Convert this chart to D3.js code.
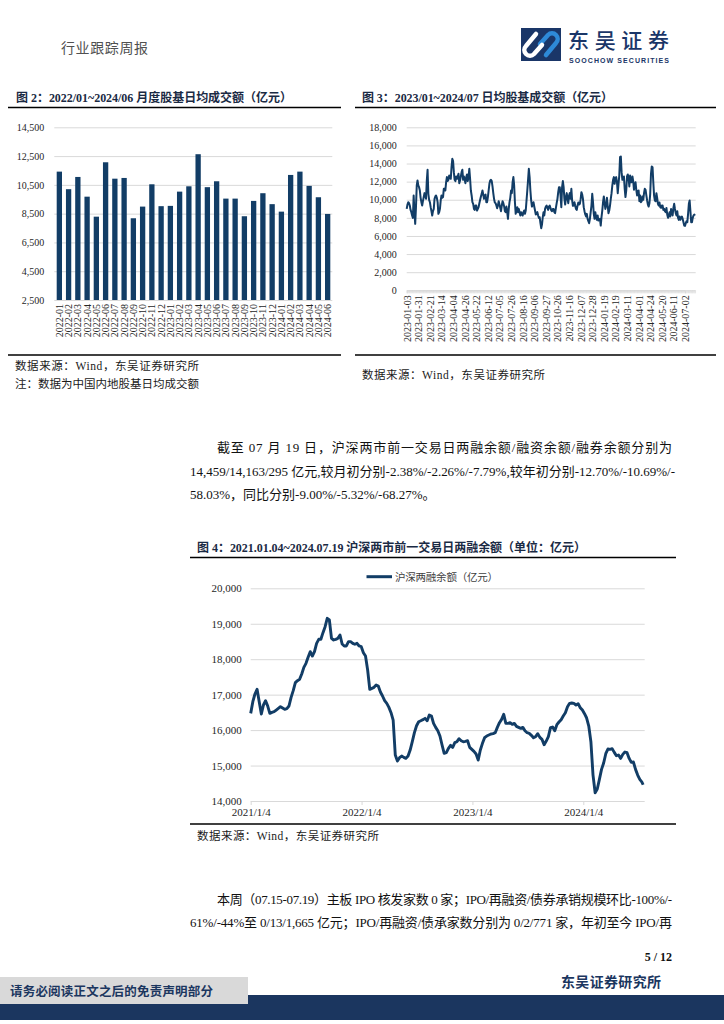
<!DOCTYPE html>
<html><head><meta charset="utf-8">
<script src="https://cdn.jsdelivr.net/npm/d3@7/dist/d3.min.js"></script>
<style>
html,body{margin:0;padding:0;background:#fff;}
svg{display:block;}
</style></head>
<body>
<script>
// ---------- DATA ----------
// Figure 2: monthly average daily turnover (亿元)
const months2 = ["2022-01","2022-02","2022-03","2022-04","2022-05","2022-06","2022-07","2022-08","2022-09","2022-10","2022-11","2022-12",
"2023-01","2023-02","2023-03","2023-04","2023-05","2023-06","2023-07","2023-08","2023-09","2023-10","2023-11","2023-12",
"2024-01","2024-02","2024-03","2024-04","2024-05","2024-06"];
const turnover2 = [11420,10200,11050,9680,8290,12070,10930,10980,8180,8990,10540,9020,
9040,10030,10400,12630,10340,10750,9545,9545,8320,9385,9920,9160,
8640,11190,11420,10430,9640,8480];
const yTicks2 = [2500,4500,6500,8500,10500,12500,14500];

// Figure 3: daily turnover 2023-01-03 ~ 2024-07-19 (亿元), one value per trading day
const dateLabels3 = ["2023-01-03","2023-01-31","2023-02-21","2023-03-14","2023-04-04","2023-04-26","2023-05-22","2023-06-12","2023-07-05","2023-07-26","2023-08-16","2023-09-06","2023-09-27","2023-10-26","2023-11-16","2023-12-07","2023-12-28","2024-01-19","2024-02-19","2024-03-11","2024-04-01","2024-04-24","2024-05-20","2024-06-11","2024-07-02"];
const labelStep3 = 15;
const daily3 = [
8990,9470,9730,9620,9360,8880,8630,8260,8000,10470,8630,7340,9180,11580,12130,11580,11390,11020,10210,9730,
9360,9840,10290,10730,10470,10100,12130,13310,10650,9990,9730,9180,8740,8260,8740,8990,10100,10360,10470,10210,
9730,8440,8630,8990,9920,10470,10210,10290,11210,11210,11020,11940,12500,12060,12200,12680,12500,12310,13600,14530,
14270,13050,12200,12060,12570,12310,12570,12870,11830,12130,12570,13050,13310,12200,12570,12200,11830,12500,12790,12060,
12500,13420,12310,11020,10470,9730,9550,8990,8880,9360,9360,8810,8990,9180,9620,9990,10360,10650,11020,10580,
10100,10470,10580,9730,9730,10290,11020,11760,12130,12200,12060,11470,10730,10100,9690,9620,9360,9070,9360,9840,
9470,9100,8740,9360,9840,9620,9290,8740,8630,9250,8630,7890,8990,9730,10210,11020,10730,11940,12500,11580,
9730,8440,8810,9180,8630,8990,8630,8260,8630,8440,8260,8630,8810,8440,8810,9920,11020,12200,13420,12500,
11020,9920,9250,9470,9730,9250,8810,8370,8440,8630,8260,8000,8070,7410,6860,7260,8070,8630,8260,8990,
9250,9360,9100,8880,9250,9360,9070,8810,8740,8990,8990,8630,8520,9100,9620,10100,10840,11390,11390,10470,
9180,11390,12060,11390,10100,9470,10290,10730,10100,9620,10470,10730,10100,11210,9920,9330,9360,9730,9330,8990,
8880,9360,9690,9470,9550,10060,10840,10580,10100,9180,8740,8370,8150,8440,7890,7630,7410,7890,8630,9360,
10650,9730,8440,7890,8630,8070,7780,8260,7700,7780,7890,7150,8070,8810,9730,10360,9620,8990,9360,10210,
9360,8520,8810,9360,10100,10730,11580,12200,12500,11760,12420,12500,11940,10730,11760,12680,14710,14780,13050,12200,
12310,12570,11210,10290,11020,12570,12790,12420,11470,12680,11940,11940,12570,12060,11100,11580,11940,11100,10470,10950,
11020,9840,10470,9730,9840,10360,9990,10730,11210,11100,10470,9920,9470,9250,9620,10650,12870,13680,13600,11940,
10470,9920,9840,10730,10210,9550,9360,9690,9180,9100,9360,9360,8880,8990,8740,8630,9100,8370,8000,8260,
8630,8150,8990,8630,8260,9100,9550,8990,8520,8260,8740,8000,7780,8150,7780,8000,8150,7890,7520,7150,
7110,7410,7630,7520,8440,9550,9920,8740,7520,7520,8000,8260,8370,8260];
const yTicks3 = [0,2000,4000,6000,8000,10000,12000,14000,16000,18000];

// Figure 4: margin balance (亿元), weekly readings (Mondays from 2021-01-04) + final 2024-07-19
const marginStart4 = "2021-01-04";
const marginEnd4 = "2024-07-19";
const margin4 = [
16472,16802,17018,17150,16802,16454,16708,16830,16679,16472,
16501,16519,16566,16613,16661,16623,16585,16604,16679,16924,
17112,17338,17394,17432,17582,17771,17883,18053,18213,18090,
18213,18448,18561,18561,18749,18918,19153,19106,18589,18542,
18561,18589,18683,18429,18373,18373,18495,18495,18448,18420,
18448,18373,18354,18184,18090,17695,17150,17178,17206,17272,
17244,17074,16962,16830,16755,16642,16491,16284,15296,15127,
15221,15268,15231,15202,15268,15438,15673,15927,16124,16237,
16265,16294,16331,16265,16425,16397,16190,16077,15983,15833,
15579,15344,15362,15485,15569,15513,15645,15673,15757,15701,
15673,15682,15701,15513,15456,15400,15325,15155,15438,15626,
15786,15833,15861,15889,15899,15927,16077,16209,16303,16444,
16190,16190,16209,16162,16190,16106,16077,16049,16077,15983,
15927,15908,15852,15786,15814,15899,15795,15739,15588,15692,
15814,16068,16087,15983,16153,16228,16294,16397,16491,16661,
16755,16764,16755,16708,16745,16632,16566,16463,16341,16115,
15673,14732,14234,14337,14610,14892,15071,15334,15466,15456,
15475,15372,15278,15296,15202,15315,15381,15362,15202,15090,
15099,14892,14732,14610,14535,
14459];
const yTicks4 = [14000,15000,16000,17000,18000,19000,20000];
const xTicks4 = ["2021-01-04","2022-01-04","2023-01-04","2024-01-04"];

// ---------- STYLE ----------
const NAVY = "#123d66";
const GRID = "#d9d9d9";
const FONT = "'Liberation Serif','Noto Sans CJK SC',serif";
const TXT = "#262626";

const svg = d3.select("body").append("svg").attr("width",724).attr("height",1024);
svg.append("rect").attr("width",724).attr("height",1024).attr("fill","#fff");

// ---------- HEADER ----------
svg.append("text").attr("x",61).attr("y",53).attr("font-family",FONT).attr("font-size",14)
  .attr("fill","#505050").attr("textLength",87).text("行业跟踪周报");
const logo = svg.append("g");
logo.append("rect").attr("x",521).attr("y",28).attr("width",40).attr("height",33).attr("fill","#1a3668");
logo.append("path").attr("d","M540,44 L548,35 A5.5,5.5 0 0 1 556,43 L546,55").attr("fill","none").attr("stroke","#2e8ad8").attr("stroke-width",4.5).attr("stroke-linecap","round");
logo.append("path").attr("d","M542,45 L534,54 A5.5,5.5 0 0 1 526,46 L536,34").attr("fill","none").attr("stroke","#ffffff").attr("stroke-width",4.5).attr("stroke-linecap","round");
svg.append("text").attr("x",568).attr("y",48).attr("font-family","'Noto Sans CJK SC',sans-serif").attr("font-size",21)
  .attr("font-weight",500).attr("fill","#1a3668").attr("textLength",101).text("东吴证券");
svg.append("text").attr("x",569).attr("y",62.5).attr("font-family","'Liberation Sans',sans-serif").attr("font-size",7)
  .attr("font-weight","bold").attr("fill","#1a3668").attr("textLength",100).text("SOOCHOW SECURITIES");

// ---------- helpers ----------
function title(x,y,txt,len){
  svg.append("text").attr("x",x).attr("y",y).attr("font-family",FONT).attr("font-size",12)
    .attr("font-weight","bold").attr("fill","#1a2a44").attr("textLength",len).text(txt);
}
function rule(x1,x2,y){
  svg.append("line").attr("x1",x1).attr("x2",x2).attr("y1",y).attr("y2",y).attr("stroke","#000").attr("stroke-width",1.3);
}
function note(x,y,txt,len){
  svg.append("text").attr("x",x).attr("y",y).attr("font-family",FONT).attr("font-size",11.5)
    .attr("fill","#1a1a1a").attr("textLength",len).text(txt);
}

// ---------- FIGURE 2 ----------
title(16,102,"图 2：2022/01~2024/06 月度股基日均成交额（亿元）",276);
rule(8,341,107.5);
{
  const y = d3.scaleLinear([2500,14500],[300,127.3]);
  const x = d3.scaleBand(months2,[54.7,332.3]).paddingInner(0.427).paddingOuter(0.216);
  const g = svg.append("g");
  const ya = g.append("g").attr("transform","translate(54.3,0)")
    .call(d3.axisLeft(y).tickValues(yTicks2).tickSize(-278).tickFormat(d3.format(",")));
  ya.select(".domain").remove();
  ya.selectAll("line").attr("stroke",GRID).attr("stroke-width",1);
  ya.selectAll("text").attr("x",-10).attr("font-family",FONT).attr("font-size",10).attr("fill",TXT);
  g.selectAll("rect.bar").data(turnover2).enter().append("rect").attr("class","bar")
    .attr("x",(d,i)=>x(months2[i])).attr("width",x.bandwidth())
    .attr("y",d=>y(d)).attr("height",d=>y(2500)-y(d)).attr("fill",NAVY);
  const xa = g.append("g").attr("transform","translate(0,300)").call(d3.axisBottom(x).tickSize(0));
  xa.select(".domain").remove();
  xa.selectAll("text").attr("transform","rotate(-90)").attr("text-anchor","end")
    .attr("x",-4).attr("y",0).attr("dy","0.35em").attr("font-family",FONT).attr("font-size",10).attr("fill",TXT);
}
rule(8,341,355);
note(15,370,"数据来源：Wind，东吴证券研究所",184);
note(15,388,"注：数据为中国内地股基日均成交额",184);

// ---------- FIGURE 3 ----------
title(362,102,"图 3：2023/01~2024/07 日均股基成交额（亿元）",251);
rule(355,716,107.5);
{
  const y = d3.scaleLinear([0,18000],[290.3,127.3]);
  const x = d3.scaleLinear([0,(dateLabels3.length-1)*labelStep3],[406.7,685]);
  const g = svg.append("g");
  const ya = g.append("g").attr("transform","translate(406.7,0)")
    .call(d3.axisLeft(y).tickValues(yTicks3).tickSize(-289).tickFormat(d3.format(",")));
  ya.select(".domain").remove();
  ya.selectAll("line").attr("stroke",GRID).attr("stroke-width",1);
  ya.selectAll("text").attr("x",-10).attr("font-family",FONT).attr("font-size",10).attr("fill",TXT);
  // minor ticks for each trading day
  const xm = g.append("g").attr("transform","translate(0,290.3)")
    .call(d3.axisBottom(x).tickValues(d3.range(daily3.length)).tickSize(3).tickFormat(""));
  xm.select(".domain").attr("stroke",GRID);
  xm.selectAll("line").attr("stroke",GRID).attr("stroke-width",0.6);
  const xa = g.append("g").attr("transform","translate(0,290.3)")
    .call(d3.axisBottom(x).tickValues(dateLabels3.map((d,i)=>i*labelStep3)).tickSize(0)
      .tickFormat((d,i)=>dateLabels3[i]));
  xa.select(".domain").remove();
  xa.selectAll("text").attr("transform","rotate(-90)").attr("text-anchor","end")
    .attr("x",-5).attr("y",0).attr("dy","0.35em").attr("font-family",FONT).attr("font-size",10).attr("fill",TXT);
  const line = d3.line().x((d,i)=>x(i)).y(d=>y(d));
  g.append("path").datum(daily3).attr("d",line).attr("fill","none").attr("stroke",NAVY)
    .attr("stroke-width",2).attr("stroke-linejoin","round");
}
rule(355,716,355);
note(362,379,"数据来源：Wind，东吴证券研究所",183);

// ---------- PARAGRAPH 1 ----------
function para(x,y,txt,len){
  const t = svg.append("text").attr("x",x).attr("y",y).attr("font-family",FONT).attr("font-size",13).attr("fill","#111");
  if(len){t.attr("textLength",len).attr("lengthAdjust","spacing");}
  t.text(txt);
}
para(217,452,"截至 07 月 19 日，沪深两市前一交易日两融余额/融资余额/融券余额分别为",455);
para(190,476,"14,459/14,163/295 亿元,较月初分别-2.38%/-2.26%/-7.79%,较年初分别-12.70%/-10.69%/-",485);
para(190,499,"58.03%，同比分别-9.00%/-5.32%/-68.27%。");

// ---------- FIGURE 4 ----------
title(197,552,"图 4：2021.01.04~2024.07.19 沪深两市前一交易日两融余额（单位：亿元）",389);
rule(190,676,557.5);
{
  const parse = d3.timeParse("%Y-%m-%d");
  const weeks = d3.timeMonday.range(parse(marginStart4), parse("2024-07-16"));
  weeks.push(parse(marginEnd4));
  const pts = margin4.map((v,i)=>({date:weeks[i],value:v}));
  const x = d3.scaleTime([parse("2021-01-04"),parse("2024-01-04")],[250.7,583.3]);
  const y = d3.scaleLinear([14000,20000],[801,588.3]);
  const g = svg.append("g");
  const ya = g.append("g").attr("transform","translate(250.7,0)")
    .call(d3.axisLeft(y).tickValues(yTicks4).tickSize(-394).tickFormat(d3.format(",")));
  ya.select(".domain").remove();
  ya.selectAll("line").attr("stroke",GRID).attr("stroke-width",1);
  ya.selectAll("text").attr("x",-9).attr("font-family",FONT).attr("font-size",11).attr("fill",TXT);
  const xa = g.append("g").attr("transform","translate(0,801)")
    .call(d3.axisBottom(x).tickValues(xTicks4.map(parse)).tickSize(4).tickFormat(d3.timeFormat("%Y/%-m/%-d")));
  xa.select(".domain").remove();
  xa.selectAll("line").attr("stroke",GRID);
  xa.selectAll("text").attr("y",7).attr("font-family",FONT).attr("font-size",11).attr("fill",TXT);
  const line = d3.line().x(d=>x(d.date)).y(d=>y(d.value));
  g.append("path").datum(pts).attr("d",line).attr("fill","none").attr("stroke",NAVY)
    .attr("stroke-width",2.9).attr("stroke-linejoin","round");
  // legend
  g.append("line").attr("x1",366.5).attr("x2",392).attr("y1",576.7).attr("y2",576.7).attr("stroke",NAVY).attr("stroke-width",3);
  g.append("text").attr("x",395).attr("y",580.5).attr("font-family",FONT).attr("font-size",10.5).attr("fill","#404040")
    .attr("textLength",103).text("沪深两融余额（亿元）");
}
rule(190,676,824);
note(197,840,"数据来源：Wind，东吴证券研究所",182);

// ---------- PARAGRAPH 2 ----------
para(217,904,"本周（07.15-07.19）主板 IPO 核发家数 0 家；IPO/再融资/债券承销规模环比-100%/-",455);
para(190,927,"61%/-44%至 0/13/1,665 亿元；IPO/再融资/债承家数分别为 0/2/771 家，年初至今 IPO/再",482);

// ---------- FOOTER ----------
svg.append("text").attr("x",672).attr("y",961).attr("text-anchor","end").attr("font-family",FONT)
  .attr("font-size",12).attr("font-weight","bold").attr("fill","#111").text("5 / 12");
svg.append("text").attr("x",561).attr("y",987).attr("font-family","'Noto Sans CJK SC',sans-serif")
  .attr("font-size",14).attr("font-weight","bold").attr("fill","#1b365f").attr("textLength",100).text("东吴证券研究所");
svg.append("rect").attr("x",0).attr("y",995).attr("width",724).attr("height",25).attr("fill","#1b365f");
svg.append("rect").attr("x",0).attr("y",977).attr("width",248).attr("height",27).attr("fill","#d9d9d9");
svg.append("text").attr("x",10).attr("y",996).attr("font-family","'Noto Sans CJK SC',sans-serif")
  .attr("font-size",12.5).attr("font-weight","bold").attr("fill","#1b365f").attr("textLength",203).text("请务必阅读正文之后的免责声明部分");
</script>
</body></html>
